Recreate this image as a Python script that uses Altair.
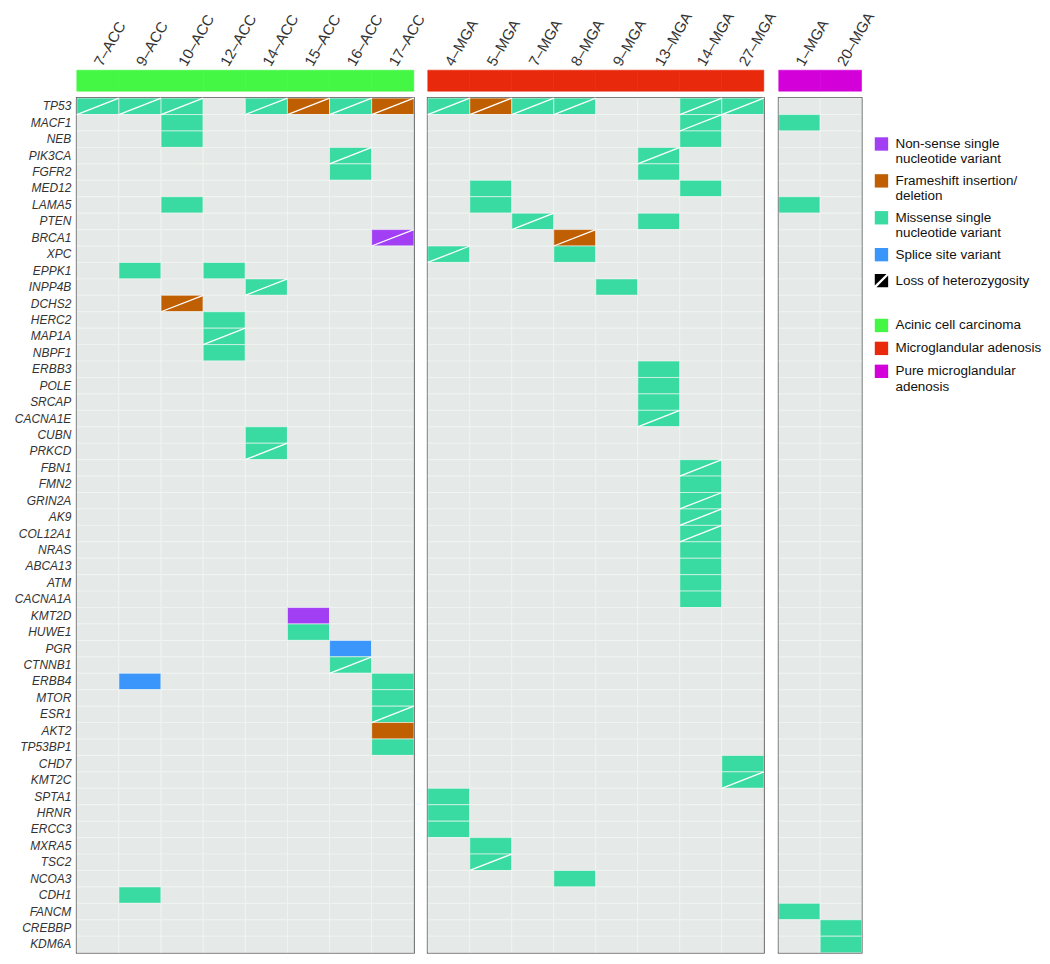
import altair as alt
import pandas as pd

genes = ["TP53", "MACF1", "NEB", "PIK3CA", "FGFR2", "MED12", "LAMA5", "PTEN", "BRCA1", "XPC",
         "EPPK1", "INPP4B", "DCHS2", "HERC2", "MAP1A", "NBPF1", "ERBB3", "POLE", "SRCAP", "CACNA1E",
         "CUBN", "PRKCD", "FBN1", "FMN2", "GRIN2A", "AK9", "COL12A1", "NRAS", "ABCA13", "ATM",
         "CACNA1A", "KMT2D", "HUWE1", "PGR", "CTNNB1", "ERBB4", "MTOR", "ESR1", "AKT2", "TP53BP1",
         "CHD7", "KMT2C", "SPTA1", "HRNR", "ERCC3", "MXRA5", "TSC2", "NCOA3", "CDH1", "FANCM",
         "CREBBP", "KDM6A"]

acc_samples = ["7–ACC", "9–ACC", "10–ACC", "12–ACC", "14–ACC", "15–ACC", "16–ACC", "17–ACC"]
mga_samples = ["4–MGA", "5–MGA", "7–MGA", "8–MGA", "9–MGA", "13–MGA", "14–MGA", "27–MGA"]
pure_samples = ["1–MGA", "20–MGA"]

group_names = ["Acinic cell carcinoma", "Microglandular adenosis", "Pure microglandular|adenosis"]
group_colors = ["#45F745", "#E8290B", "#D300D9"]

type_codes = ["N", "F", "M", "S"]
type_labels = ["Non-sense single|nucleotide variant", "Frameshift insertion/|deletion",
               "Missense single|nucleotide variant", "Splice site variant"]
type_colors = ["#A23FF5", "#BF5F02", "#3ADBA3", "#3B96FB"]
empty_label = "No alteration"
empty_color = "#E5EAE8"
loh_label = "Loss of heterozygosity"

# (gene, sample, type code, loss of heterozygosity)
acc_mutations = [
    ("TP53", "7–ACC", "M", 1), ("TP53", "9–ACC", "M", 1), ("TP53", "10–ACC", "M", 1),
    ("TP53", "14–ACC", "M", 1), ("TP53", "15–ACC", "F", 1), ("TP53", "16–ACC", "M", 1),
    ("TP53", "17–ACC", "F", 1),
    ("MACF1", "10–ACC", "M", 0), ("NEB", "10–ACC", "M", 0),
    ("PIK3CA", "16–ACC", "M", 1), ("FGFR2", "16–ACC", "M", 0),
    ("LAMA5", "10–ACC", "M", 0), ("BRCA1", "17–ACC", "N", 1),
    ("EPPK1", "9–ACC", "M", 0), ("EPPK1", "12–ACC", "M", 0),
    ("INPP4B", "14–ACC", "M", 1), ("DCHS2", "10–ACC", "F", 1),
    ("HERC2", "12–ACC", "M", 0), ("MAP1A", "12–ACC", "M", 1), ("NBPF1", "12–ACC", "M", 0),
    ("CUBN", "14–ACC", "M", 0), ("PRKCD", "14–ACC", "M", 1),
    ("KMT2D", "15–ACC", "N", 0), ("HUWE1", "15–ACC", "M", 0),
    ("PGR", "16–ACC", "S", 0), ("CTNNB1", "16–ACC", "M", 1),
    ("ERBB4", "9–ACC", "S", 0), ("ERBB4", "17–ACC", "M", 0),
    ("MTOR", "17–ACC", "M", 0), ("ESR1", "17–ACC", "M", 1),
    ("AKT2", "17–ACC", "F", 0), ("TP53BP1", "17–ACC", "M", 0),
    ("CDH1", "9–ACC", "M", 0),
]

mga_mutations = [
    ("TP53", "4–MGA", "M", 1), ("TP53", "5–MGA", "F", 1), ("TP53", "7–MGA", "M", 1),
    ("TP53", "8–MGA", "M", 1), ("TP53", "14–MGA", "M", 1), ("TP53", "27–MGA", "M", 1),
    ("MACF1", "14–MGA", "M", 1), ("NEB", "14–MGA", "M", 0),
    ("PIK3CA", "13–MGA", "M", 1), ("FGFR2", "13–MGA", "M", 0),
    ("MED12", "5–MGA", "M", 0), ("MED12", "14–MGA", "M", 0), ("LAMA5", "5–MGA", "M", 0),
    ("PTEN", "7–MGA", "M", 1), ("PTEN", "13–MGA", "M", 0),
    ("BRCA1", "8–MGA", "F", 1), ("XPC", "4–MGA", "M", 1), ("XPC", "8–MGA", "M", 0),
    ("INPP4B", "9–MGA", "M", 0),
    ("ERBB3", "13–MGA", "M", 0), ("POLE", "13–MGA", "M", 0), ("SRCAP", "13–MGA", "M", 0),
    ("CACNA1E", "13–MGA", "M", 1),
    ("FBN1", "14–MGA", "M", 1), ("FMN2", "14–MGA", "M", 0), ("GRIN2A", "14–MGA", "M", 1),
    ("AK9", "14–MGA", "M", 1), ("COL12A1", "14–MGA", "M", 1), ("NRAS", "14–MGA", "M", 0),
    ("ABCA13", "14–MGA", "M", 0), ("ATM", "14–MGA", "M", 0), ("CACNA1A", "14–MGA", "M", 0),
    ("CHD7", "27–MGA", "M", 0), ("KMT2C", "27–MGA", "M", 1),
    ("SPTA1", "4–MGA", "M", 0), ("HRNR", "4–MGA", "M", 0), ("ERCC3", "4–MGA", "M", 0),
    ("MXRA5", "5–MGA", "M", 0), ("TSC2", "5–MGA", "M", 1),
    ("NCOA3", "8–MGA", "M", 0),
]

pure_mutations = [
    ("MACF1", "1–MGA", "M", 0), ("LAMA5", "1–MGA", "M", 0), ("FANCM", "1–MGA", "M", 0),
    ("CREBBP", "20–MGA", "M", 0), ("KDM6A", "20–MGA", "M", 0),
]

FONT = "Liberation Sans"
ROW_H = 857
LOH_PATH = "M-1,-1L0.75,-1L-1,0.75Z M1,1L-0.75,1L1,-0.75Z"

code_to_label = dict(zip(type_codes, type_labels))

common_legend = dict(
    title=None, orient="none", symbolSize=180, symbolStrokeWidth=0,
    labelExpr="split(datum.label, '|')", labelFont=FONT, labelFontSize=13.5,
    labelColor="#111", labelLimit=300, labelOffset=7,
)

LX = 800
type_legend = alt.Legend(values=type_labels, legendX=LX, legendY=67, rowPadding=8,
                         symbolType="square", **common_legend)
loh_legend = alt.Legend(legendX=LX, legendY=204, rowPadding=8, symbolFillColor="black",
                        symbolOpacity=1, **common_legend)
group_legend = alt.Legend(legendX=LX, legendY=249, rowPadding=9, symbolType="square",
                          **common_legend)


def panel_frame(samples, muts):
    lookup = {(g, s): (t, l) for g, s, t, l in muts}
    rows = []
    for g in genes:
        for s in samples:
            t, l = lookup.get((g, s), (None, 0))
            rows.append({"gene": g, "sample": s,
                         "type": code_to_label[t] if t else empty_label, "loh": l})
    return pd.DataFrame(rows)


def heat(samples, muts, width, show_y):
    df = panel_frame(samples, muts)
    xscale = alt.Scale(domain=samples, paddingInner=0, paddingOuter=0)
    yscale = alt.Scale(domain=genes, paddingInner=0, paddingOuter=0)
    yaxis = alt.Axis(title=None, ticks=False, domain=False, labelFontStyle="italic",
                     labelFontSize=12, labelColor="#333", labelPadding=6, labelFont=FONT) if show_y else None
    rect = alt.Chart(df).mark_rect(stroke="#F3F6F5", strokeWidth=0.6).encode(
        x=alt.X("sample:N", scale=xscale, axis=None),
        y=alt.Y("gene:N", scale=yscale, axis=yaxis),
        color=alt.Color("type:N",
                        scale=alt.Scale(domain=type_labels + [empty_label],
                                        range=type_colors + [empty_color]),
                        legend=type_legend),
    )
    rule = alt.Chart(df).transform_filter("datum.loh == 1").mark_rule(
        color="white", strokeWidth=1.3).encode(
        x=alt.X("sample:N", scale=xscale, axis=None, bandPosition=0),
        x2=alt.X2("sample", bandPosition=1),
        y=alt.Y("gene:N", scale=yscale, axis=yaxis, bandPosition=1),
        y2=alt.Y2("gene", bandPosition=0),
    )
    # legend-only layer for the loss-of-heterozygosity key (no data rows drawn)
    key = alt.Chart(df).transform_filter("datum.loh == 99").transform_calculate(
        status="'" + loh_label + "'").mark_point(filled=True, color="black", opacity=1, size=180).encode(
        x=alt.X("sample:N", scale=xscale, axis=None),
        y=alt.Y("gene:N", scale=yscale, axis=yaxis),
        shape=alt.Shape("status:N", scale=alt.Scale(domain=[loh_label], range=[LOH_PATH]),
                        legend=loh_legend),
    )
    return alt.layer(rect, rule, key).properties(
        width=width, height=ROW_H,
        view=alt.ViewBackground(stroke="#222", strokeWidth=1.8))


def bar(samples, group, width):
    df = pd.DataFrame({"sample": samples, "group": [group] * len(samples)})
    gscale = alt.Scale(domain=group_names, range=group_colors)
    return alt.Chart(df).mark_rect(strokeWidth=0.6).encode(
        x=alt.X("sample:N", scale=alt.Scale(domain=samples, paddingInner=0, paddingOuter=0),
                axis=alt.Axis(orient="top", title=None, ticks=False, domain=False,
                              labelAngle=-60, labelAlign="left", labelBaseline="middle",
                              labelFontSize=15, labelColor="#333", labelPadding=6,
                              labelFont=FONT)),
        fill=alt.Fill("group:N", scale=gscale, legend=group_legend),
        stroke=alt.Stroke("group:N", scale=gscale, legend=None),
    ).properties(width=width, height=21,
                 view=alt.ViewBackground(strokeWidth=0))


W1, W2, W3 = 338, 337, 83

columns = [
    alt.vconcat(bar(acc_samples, group_names[0], W1),
                heat(acc_samples, acc_mutations, W1, True), spacing=7, bounds="flush"),
    alt.vconcat(bar(mga_samples, group_names[1], W2),
                heat(mga_samples, mga_mutations, W2, False), spacing=7, bounds="flush"),
    alt.vconcat(bar(pure_samples, group_names[2], W3),
                heat(pure_samples, pure_mutations, W3, False), spacing=7, bounds="flush"),
]

chart = alt.hconcat(*columns, spacing=-3).properties(
    padding={"left": 5, "top": 0, "right": 0, "bottom": 0}
).configure(font=FONT, background="white")

chart.save("out.html", embed_options={"renderer": "svg", "actions": False})
